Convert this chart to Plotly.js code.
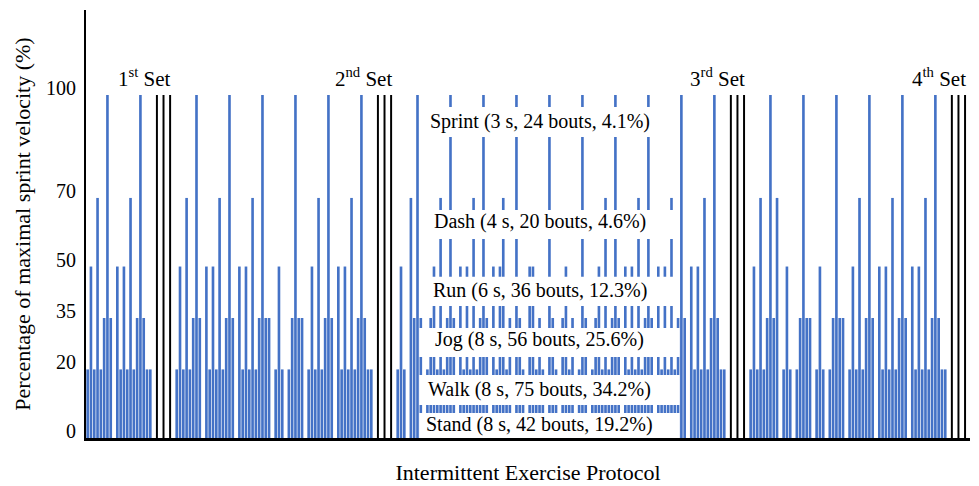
<!DOCTYPE html>
<html><head><meta charset="utf-8">
<script src="https://cdn.plot.ly/plotly-3.0.1.min.js"></script>
<style>html,body{margin:0;padding:0;background:#fff}#chart{width:979px;height:486px}</style>
</head><body><div id="chart"></div>
<script>
// intensity (% of maximal sprint velocity) of each bout, in order
const set1 = [20,50,20,70,20,35,100,35,0,50,20,50,20,70,20,35,100,35,20,20,0];
const set2 = [0,20,50,20,70,20,35,100,35,0, 50,20,50,20,70,20,35,100,35,0, 50,20,50,20,70,20,35,100,35,35,
              0,20,50,20,0,20,35,100,35,35, 0,20,50,20,70,20,35,100,35,0, 50,20,50,20,70,20,35,100,35,20, 20,0];
const set3 = [0,20,50,20,0,70,35,
              100,35,0,20,35,50,20,70,20,35,
              100,35,0,50,20,50,20,70,20,35,
              100,35,0,50,20,50,70,20,35,0,
              100,35,20,0,50,50,20,35,20,0,
              100,35,20,0,35,50,20,35,0,20,
              100,35,0,20,35,50,20,70,20,35,
              100,35,0,50,20,50,20,70,20,35,
              100,35,0,50,20,50,20,70,20,35,
              100,35,0,50,20,50,20,70,20,35,100,35,20,20,0];
const set4 = [0,20,50,20,70,20,35,100,35,70, 0,20,50,20,0,20,35,100,35,35, 0,20,50,20,0,20,35,100,35,35,
              0,20,50,20,70,20,35,100,35,0, 50,20,50,20,70,20,35,100,35,0, 50,20,50,20,70,20,35,100,35,20, 20,0];
const separator = [1,0,1,0,1];   // three black dividing lines between sets
const setNames = ['1<sup>st</sup> Set','2<sup>nd</sup> Set','3<sup>rd</sup> Set','4<sup>th</sup> Set'];
const yTicks = [0,20,35,50,70,100];
const categories = ['Sprint (3 s, 24 bouts, 4.1%)','Dash (4 s, 20 bouts, 4.6%)','Run (6 s, 36 bouts, 12.3%)',
                    'Jog (8 s, 56 bouts, 25.6%)','Walk (8 s, 75 bouts, 34.2%)','Stand (8 s, 42 bouts, 19.2%)'];
const categoryLevels = [92.4, 63.0, 43.1, 28.6, 14.0, 3.8];
const boxBands = [[87.8,96.5],[58,66.5],[38.5,47],[23.6,32.1],[9.6,18.4],[0,7.3]];

const blueX=[], blueY=[], lineX=[], lineY=[], setEnd=[];
let k=0;
[set1,set2,set3,set4].forEach(s=>{
  s.forEach(v=>{ blueX.push(k); blueY.push(v); k++; });
  separator.forEach(f=>{ if(f){ lineX.push(k); lineY.push(100);} k++; });
  setEnd.push(k-1);
});
const total = k+1;
const mid0 = set1.length+separator.length+set2.length+separator.length+7; // first sprint of set 3
const boxL = mid0+0.5, boxR = mid0+79.5, boxC = mid0+37;

const traces = [
  {type:'bar', x:blueX, y:blueY, width:0.8, marker:{color:'#4472C6', line:{width:0}}, hoverinfo:'skip'},
  {type:'bar', x:lineX, y:lineY, width:0.6, marker:{color:'#000', line:{width:0}}, hoverinfo:'skip'}
];
const shapes = boxBands.map(b=>({type:'rect', xref:'x', yref:'y', x0:boxL, x1:boxR, y0:b[0], y1:b[1],
  fillcolor:'#fff', line:{width:0}, layer:'above'}));
const ann = categories.map((t,i)=>({text:t, x:boxC, y:categoryLevels[i], xref:'x', yref:'y', showarrow:false,
  font:{size:20}}));
setEnd.forEach((e,i)=>ann.push({text:setNames[i], x:e+1, y:100.6, xref:'x', yref:'y', xanchor:'right', yanchor:'bottom',
  showarrow:false, font:{size:21}}));

const layout = {
  width:979, height:486, margin:{l:86, r:9, t:10, b:48},
  paper_bgcolor:'#fff', plot_bgcolor:'#fff', barmode:'overlay', showlegend:false,
  font:{family:'"Liberation Serif","Times New Roman",serif', color:'#000', size:20},
  xaxis:{range:[-0.5,total-0.5], showticklabels:false, ticks:'', showgrid:false, zeroline:false,
    showline:true, linecolor:'#000', linewidth:3, automargin:false,
    title:{text:'Intermittent Exercise Protocol', font:{size:22}, standoff:25}},
  yaxis:{range:[0,124.8], tickvals:yTicks, ticktext:yTicks.map(String), ticks:'', showgrid:false, zeroline:false,
    showline:true, linecolor:'#000', linewidth:2, ticklabelshift:-7, ticklabelstandoff:4, automargin:false,
    title:{text:'Percentage of maximal sprint velocity (%)', font:{size:22}, standoff:9}},
  shapes:shapes, annotations:ann
};
Plotly.newPlot('chart', traces, layout, {displayModeBar:false, staticPlot:true});
</script></body></html>
